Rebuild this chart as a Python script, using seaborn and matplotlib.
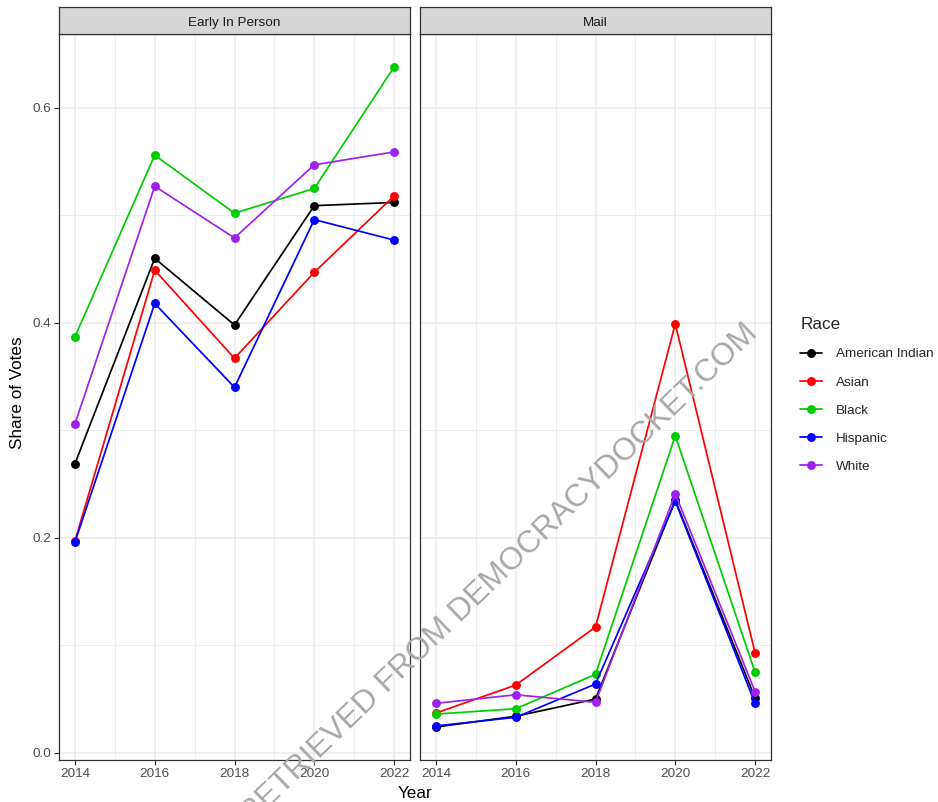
import matplotlib
matplotlib.use("Agg")
import matplotlib.pyplot as plt
import seaborn as sns
import pandas as pd
import numpy as np

# --- data -----------------------------------------------------------------
years = [2014, 2016, 2018, 2020, 2022]
races = ["American Indian", "Asian", "Black", "Hispanic", "White"]
methods = ["Early In Person", "Mail"]

early_american_indian = [0.269, 0.460, 0.398, 0.509, 0.512]
early_asian = [0.197, 0.449, 0.367, 0.447, 0.518]
early_black = [0.387, 0.556, 0.502, 0.525, 0.638]
early_hispanic = [0.196, 0.418, 0.340, 0.496, 0.477]
early_white = [0.306, 0.527, 0.479, 0.547, 0.559]

mail_american_indian = [0.024, 0.034, 0.050, 0.235, 0.051]
mail_asian = [0.037, 0.063, 0.117, 0.399, 0.093]
mail_black = [0.036, 0.041, 0.073, 0.295, 0.075]
mail_hispanic = [0.025, 0.033, 0.064, 0.234, 0.046]
mail_white = [0.046, 0.054, 0.047, 0.241, 0.057]

series = {
    ("Early In Person", "American Indian"): early_american_indian,
    ("Early In Person", "Asian"): early_asian,
    ("Early In Person", "Black"): early_black,
    ("Early In Person", "Hispanic"): early_hispanic,
    ("Early In Person", "White"): early_white,
    ("Mail", "American Indian"): mail_american_indian,
    ("Mail", "Asian"): mail_asian,
    ("Mail", "Black"): mail_black,
    ("Mail", "Hispanic"): mail_hispanic,
    ("Mail", "White"): mail_white,
}

rows = []
for (method, race), vals in series.items():
    for yr, v in zip(years, vals):
        rows.append({"Method": method, "Race": race, "Year": yr, "Share": v})
df = pd.DataFrame(rows)

palette = {
    "American Indian": "#000000",
    "Asian": "#FF0000",
    "Black": "#00CD00",
    "Hispanic": "#0000FF",
    "White": "#A020F0",
}

# --- style ----------------------------------------------------------------
sns.set_theme(style="white")
plt.rcParams["font.family"] = ["Liberation Sans", "DejaVu Sans"]

W, H = 938, 802
fig = plt.figure(figsize=(W / 100, H / 100), dpi=100)

def px_axes(x0, x1, y0, y1):
    return fig.add_axes([x0 / W, 1 - y1 / H, (x1 - x0) / W, (y1 - y0) / H])

panel_top, panel_bot = 34, 760
strip_top = 7
panels = [(59, 410), (420, 771)]

all_vals = df["Share"].to_numpy()
lo, hi = all_vals.min(), all_vals.max()
pad = 0.05 * (hi - lo)
ylim = (lo - pad, hi + pad)
xlim = (years[0] - 0.05 * (years[-1] - years[0]), years[-1] + 0.05 * (years[-1] - years[0]))

grid_col = "#EBEBEB"
border_col = "#333333"
tick_col = "#4D4D4D"

axes = []
for i, (method, (x0, x1)) in enumerate(zip(methods, panels)):
    ax = px_axes(x0, x1, panel_top, panel_bot)
    sub = df[df["Method"] == method]
    sns.lineplot(
        data=sub, x="Year", y="Share", hue="Race", hue_order=races,
        palette=palette, marker="o", markersize=6.4, markeredgewidth=0,
        linewidth=1.25, ax=ax, legend=(i == 0), zorder=3,
    )
    ax.set_xlim(*xlim)
    ax.set_ylim(*ylim)
    ax.set_xticks(years)
    ax.set_xticks([2015, 2017, 2019, 2021], minor=True)
    ax.set_yticks([0.0, 0.2, 0.4, 0.6])
    ax.set_yticks([0.1, 0.3, 0.5], minor=True)
    ax.set_yticklabels(["0.0", "0.2", "0.4", "0.6"])
    ax.grid(True, which="major", color=grid_col, linewidth=1.1, zorder=0)
    ax.grid(True, which="minor", color=grid_col, linewidth=0.6, zorder=0)
    ax.set_axisbelow(True)
    for s in ax.spines.values():
        s.set_color(border_col)
        s.set_linewidth(0.9)
        s.set_visible(True)
    ax.tick_params(axis="x", which="major", length=3.5, width=0.8, color=border_col,
                   labelsize=9.7, labelcolor=tick_col, pad=2, bottom=True)
    ax.tick_params(which="minor", length=0, bottom=False, left=False)
    if i == 0:
        ax.tick_params(axis="y", which="major", length=3.5, width=0.8, color=border_col,
                       labelsize=9.7, labelcolor=tick_col, pad=2, left=True)
    else:
        ax.tick_params(axis="y", which="major", length=0, labelleft=False)
    ax.set_xlabel("")
    ax.set_ylabel("")

    # facet strip
    sax = px_axes(x0, x1, strip_top, panel_top)
    sax.set_facecolor("#D6D6D6")
    sax.set_xticks([])
    sax.set_yticks([])
    for s in sax.spines.values():
        s.set_color(border_col)
        s.set_linewidth(0.9)
        s.set_visible(True)
    sax.text(0.5, 0.47, method, ha="center", va="center_baseline", fontsize=9.7,
             color="#1A1A1A", transform=sax.transAxes)
    axes.append(ax)

# shared axis titles
fig.text(415 / W, 1 - 793 / H, "Year", ha="center", va="center", fontsize=12.3, color="black")
fig.text(18 / W, 1 - 393 / H, "Share of Votes", ha="center", va="center",
         rotation=90, fontsize=12.3, color="black")

# legend
handles, labels = axes[0].get_legend_handles_labels()
axes[0].get_legend().remove()
leg = fig.legend(handles, labels, title="Race", loc="upper left",
                 bbox_to_anchor=(795 / W, 1 - 312 / H), frameon=False,
                 fontsize=9.7, title_fontsize=12.3, handlelength=1.6,
                 handletextpad=1.05, labelspacing=1.16, borderaxespad=0)
leg._legend_box.align = "left"
for h in leg.legend_handles:
    h.set_linewidth(1.25)

# watermark
fig.text(499 / W, 1 - 574 / H, "RETRIEVED FROM DEMOCRACYDOCKET.COM",
         ha="center", va="center", rotation=44, rotation_mode="anchor",
         fontsize=22.7, color="#A8A8A8", zorder=10)

fig.savefig("out.png", dpi=100)
